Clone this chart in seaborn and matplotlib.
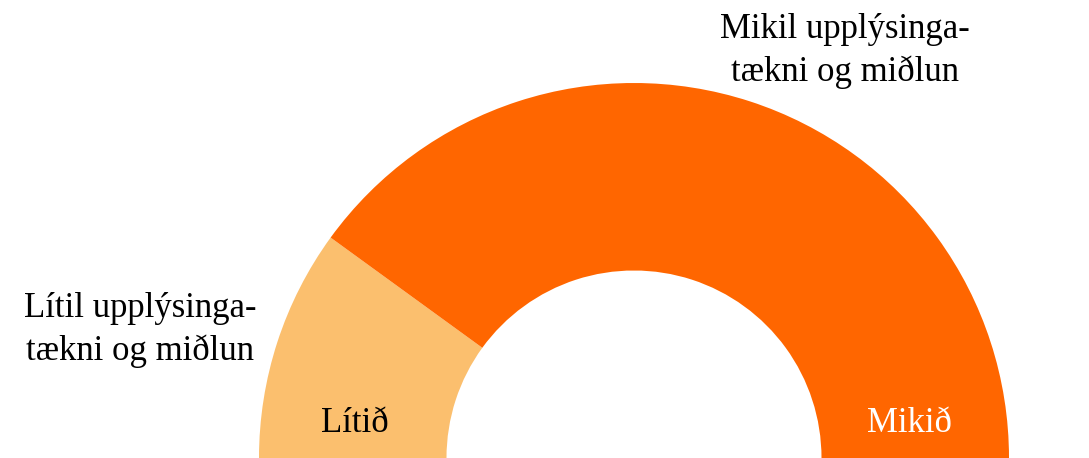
import matplotlib
matplotlib.use("Agg")
import matplotlib.pyplot as plt
import numpy as np
import seaborn as sns

# Data
categories = ["Lítið", "Mikið"]
values = [20, 80]
annotations = ["Lítil upplýsinga-\ntækni og miðlun", "Mikil upplýsinga-\ntækni og miðlun"]
colors = ["#FBBF6E", "#FF6600"]
label_colors = ["black", "white"]

sns.set_theme(style="white")
plt.rcParams["font.family"] = ["Liberation Serif", "DejaVu Serif"]

fig = plt.figure(figsize=(10.89, 4.58), dpi=100)
ax = fig.add_axes([0, 0, 1, 1])

# half donut: add an invisible wedge for the lower half
total = sum(values)
wedges, _ = ax.pie(values + [total], colors=sns.color_palette(colors) + [(1, 1, 1, 0)],
                   startangle=180, counterclock=False, radius=1.0,
                   wedgeprops=dict(width=0.5, linewidth=0))

# centre sits on the bottom edge of the picture
ax.set_xlim(-634 / 375, (1089 - 634) / 375)
ax.set_ylim(0, 458 / 375)
ax.set_aspect("auto")
ax.axis("off")

# category labels near the bottom of each wedge
mid_r = 0.75
ang = np.deg2rad(7)
for i, (name, col) in enumerate(zip(categories, label_colors)):
    sx = -1 if i == 0 else 1
    ax.text(sx * mid_r * np.cos(ang) + (0.0 if i == 0 else -0.01), mid_r * np.sin(ang), name,
            ha="center", va="center", fontsize=25, color=col)

# outside annotations
ax.text(-1.317, 0.342, annotations[0], ha="center", va="center", fontsize=25,
        linespacing=1.35, color="black")
ax.text(0.563, 1.085, annotations[1], ha="center", va="center", fontsize=25,
        linespacing=1.35, color="black")

fig.savefig("out.png", dpi=100, facecolor="white")
